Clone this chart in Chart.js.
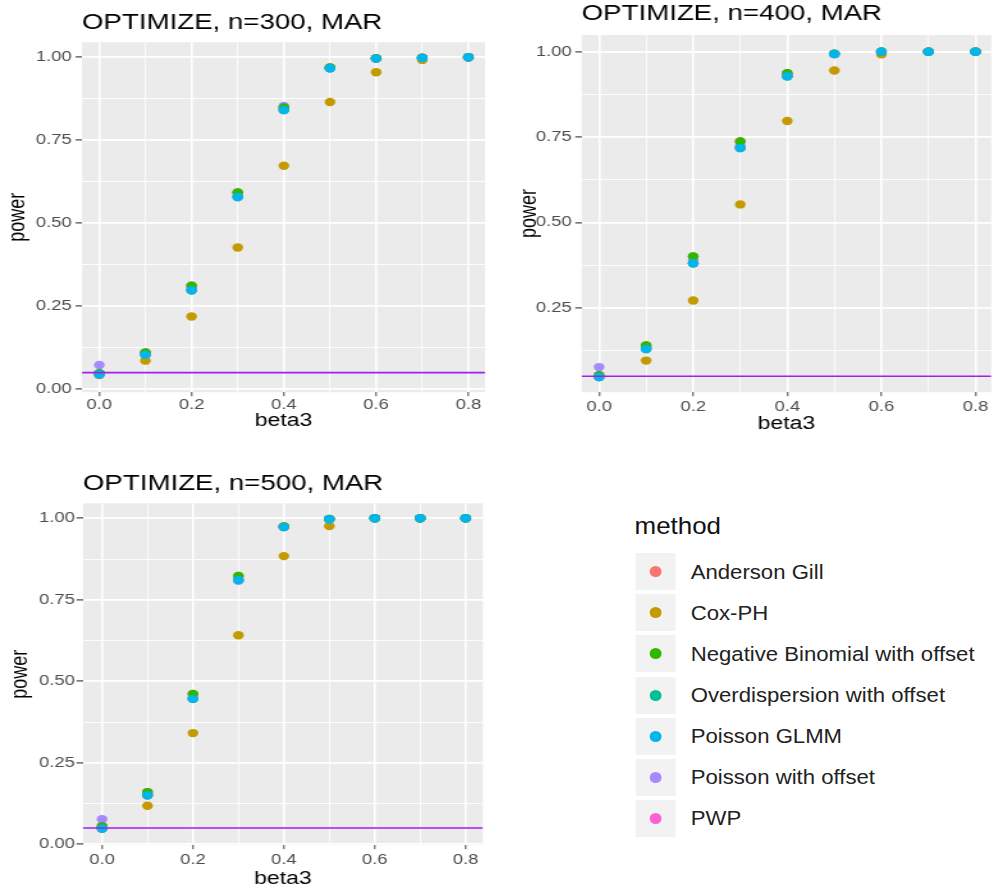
<!DOCTYPE html>
<html>
<head>
<meta charset="utf-8">
<script src="https://cdn.jsdelivr.net/npm/chart.js@4.4.1/dist/chart.umd.min.js"></script>
<style>
    html, body { margin: 0; padding: 0; background: #fff; width: 997px; height: 890px; overflow: hidden; font-family: "Liberation Sans", Arial, sans-serif; }
    .panel { position: absolute; transform: scaleX(1.28); transform-origin: 0 0; }
    #legend { position: absolute; left: 600px; top: 500px; width: 370px; height: 340px; transform: scaleX(1.08); transform-origin: 0 0; color: #222; }
    #legend .ttl { position: absolute; left: 32px; top: 14px; font-size: 24px; line-height: 24px; color: #111; }
    #legend .key { position: absolute; left: 33px; width: 37px; height: 37px; background: #F2F2F2; }
    #legend .dot { position: absolute; left: 13px; top: 13px; width: 11px; height: 11px; border-radius: 50%; }
    #legend .lab { position: absolute; left: 84px; font-size: 20.5px; line-height: 24px; white-space: nowrap; }
</style>
</head>
<body>
<div class="panel" style="left:0px;top:0px;width:385px;height:434px"><canvas id="c300"></canvas></div>
<div class="panel" style="left:500px;top:0px;width:388px;height:437px"><canvas id="c400"></canvas></div>
<div class="panel" style="left:0px;top:460px;width:383px;height:432px"><canvas id="c500"></canvas></div>
<div id="legend"></div>

<script>
// x values and tick grids
const beta3 = [0, 0.1, 0.2, 0.3, 0.4, 0.5, 0.6, 0.7, 0.8];
const xTicks = [0, 0.1, 0.2, 0.3, 0.4, 0.5, 0.6, 0.7, 0.8];
const yTicks = [0, 0.125, 0.25, 0.375, 0.5, 0.625, 0.75, 0.875, 1];
const alphaLevel = 0.05;

const methods = ['Anderson Gill', 'Cox-PH', 'Negative Binomial with offset', 'Overdispersion with offset',
    'Poisson GLMM', 'Poisson with offset', 'PWP'];
const methodColors = ['#F8766D', '#C49A00', '#2EB800', '#00C094', '#00B6EB', '#A58AFF', '#FB61D7'];
// lower = drawn on top
const drawOrder = [4, 6, 1, 3, 0, 2, 5];

// n = 300
const ag300   = [0.048, 0.111, 0.312, 0.593, 0.849, 0.969, 0.997, 0.999, 1.000];
const cox300  = [0.043, 0.086, 0.219, 0.427, 0.673, 0.865, 0.955, 0.992, 1.000];
const nb300   = [0.048, 0.111, 0.312, 0.593, 0.849, 0.969, 0.997, 0.999, 1.000];
const od300   = [0.045, 0.104, 0.298, 0.579, 0.841, 0.967, 0.996, 0.998, 1.000];
const glmm300 = [0.045, 0.104, 0.298, 0.579, 0.841, 0.967, 0.996, 0.998, 1.000];
const pois300 = [0.073, 0.108, 0.305, 0.588, 0.853, 0.968, 0.996, 0.998, 1.000];
const pwp300  = [0.045, 0.104, 0.298, 0.579, 0.841, 0.967, 0.996, 0.998, 1.000];

// n = 400
const ag400   = [0.053, 0.140, 0.401, 0.737, 0.937, 0.994, 1.000, 1.000, 1.000];
const cox400  = [0.048, 0.096, 0.272, 0.553, 0.797, 0.945, 0.992, 1.000, 1.000];
const nb400   = [0.053, 0.140, 0.401, 0.737, 0.937, 0.994, 1.000, 1.000, 1.000];
const od400   = [0.048, 0.130, 0.381, 0.718, 0.928, 0.993, 1.000, 1.000, 1.000];
const glmm400 = [0.048, 0.130, 0.381, 0.718, 0.928, 0.993, 1.000, 1.000, 1.000];
const pois400 = [0.077, 0.135, 0.390, 0.725, 0.930, 0.993, 1.000, 1.000, 1.000];
const pwp400  = [0.048, 0.130, 0.381, 0.718, 0.928, 0.993, 1.000, 1.000, 1.000];

// n = 500
const ag500   = [0.055, 0.160, 0.461, 0.823, 0.975, 0.998, 1.000, 1.000, 1.000];
const cox500  = [0.048, 0.118, 0.341, 0.641, 0.884, 0.976, 1.000, 1.000, 1.000];
const nb500   = [0.055, 0.160, 0.461, 0.823, 0.975, 0.998, 1.000, 1.000, 1.000];
const od500   = [0.048, 0.150, 0.446, 0.811, 0.973, 0.997, 1.000, 1.000, 1.000];
const glmm500 = [0.048, 0.150, 0.446, 0.811, 0.973, 0.997, 1.000, 1.000, 1.000];
const pois500 = [0.0765, 0.155, 0.450, 0.808, 0.974, 0.997, 1.000, 1.000, 1.000];
const pwp500  = [0.048, 0.150, 0.446, 0.811, 0.973, 0.997, 1.000, 1.000, 1.000];

const panels = [
    { id: 'c300', title: 'OPTIMIZE, n=300, MAR', series: [ag300, cox300, nb300, od300, glmm300, pois300, pwp300],
      xMin: -0.0375, xMax: 0.836, yMin: -0.009, yMax: 1.045,
      yAxisW: 64.06, yTitlePad: 3.3, yTickPad: 3, xAxisH: 41.8, xTickPad: 0, xTitlePad: 2,
      titleTop: 9.7, titleBottom: 6.7, padRight: 6.1 },
    { id: 'c400', title: 'OPTIMIZE, n=400, MAR', series: [ag400, cox400, nb400, od400, glmm400, pois400, pwp400],
      xMin: -0.037, xMax: 0.8335, yMin: 0.0035, yMax: 1.0487,
      yAxisW: 63.8, yTitlePad: 11.9, yTickPad: 2.8, xAxisH: 44.8, xTickPad: 2.2, xTitlePad: 2,
      titleTop: 1.4, titleBottom: 7.7, padRight: 0 },
    { id: 'c500', title: 'OPTIMIZE, n=500, MAR', series: [ag500, cox500, nb500, od500, glmm500, pois500, pwp500],
      xMin: -0.042, xMax: 0.838, yMin: -0.003, yMax: 1.046,
      yAxisW: 64.8, yTitlePad: 4.8, yTickPad: 1.2, xAxisH: 46.8, xTickPad: 2.4, xTitlePad: 2,
      titleTop: 11.3, titleBottom: 6.1, padRight: 5.7 }
];

Chart.defaults.font.family = '"Liberation Sans", Arial, Helvetica, sans-serif';

const isMajorX = v => Math.round(v * 10) % 2 === 0;
const isMajorY = v => Math.round(v * 8) % 2 === 0;

const panelBg = {
    id: 'panelBg',
    beforeDraw(chart) {
        const { ctx, chartArea: a } = chart;
        ctx.save();
        ctx.fillStyle = '#EBEBEB';
        ctx.fillRect(a.left, a.top, a.right - a.left, a.bottom - a.top);
        ctx.restore();
    }
};

function makeChart(p) {
    const datasets = methods.map((m, i) => ({
        type: 'scatter',
        label: m,
        data: beta3.map((b, j) => ({ x: b, y: p.series[i][j] })),
        backgroundColor: methodColors[i],
        borderWidth: 0,
        pointRadius: 4.2,
        order: drawOrder[i]
    }));
    // reference line at the nominal level
    datasets.push({
        type: 'line',
        label: 'alpha',
        data: [{ x: p.xMin, y: alphaLevel }, { x: p.xMax, y: alphaLevel }],
        borderColor: '#A020F0',
        borderWidth: 1.6,
        pointRadius: 0,
        order: -1
    });

    new Chart(document.getElementById(p.id), {
        type: 'scatter',
        data: { datasets },
        plugins: [panelBg],
        options: {
            responsive: true, maintainAspectRatio: false, animation: false, events: [],
            layout: { padding: { left: 0, right: p.padRight, top: 0, bottom: 0 } },
            plugins: {
                legend: { display: false },
                tooltip: { enabled: false },
                title: {
                    display: true, text: p.title, align: 'start', fullSize: false, color: '#000',
                    font: { size: 21.6, weight: 'normal' },
                    padding: { top: p.titleTop, bottom: p.titleBottom }
                }
            },
            scales: {
                x: {
                    type: 'linear', min: p.xMin, max: p.xMax,
                    afterBuildTicks: a => { a.ticks = xTicks.map(v => ({ value: v })); },
                    afterFit: a => { a.height = p.xAxisH; },
                    border: { display: false },
                    grid: {
                        color: '#FFFFFF',
                        lineWidth: c => isMajorX(c.tick.value) ? 1.6 : 0.8,
                        tickColor: c => isMajorX(c.tick.value) ? '#333333' : 'rgba(0,0,0,0)',
                        tickLength: 4, tickWidth: 0.9
                    },
                    ticks: {
                        padding: p.xTickPad, color: '#4D4D4D', font: { size: 14.4 },
                        autoSkip: false, maxRotation: 0, minRotation: 0,
                        callback: v => isMajorX(v) ? v.toFixed(1) : ''
                    },
                    title: {
                        display: true, text: 'beta3', color: '#000', font: { size: 18 },
                        padding: { top: 0, bottom: p.xTitlePad }
                    }
                },
                y: {
                    type: 'linear', min: p.yMin, max: p.yMax,
                    afterBuildTicks: a => {
                        a.ticks = yTicks.filter(v => v >= p.yMin && v <= p.yMax).map(v => ({ value: v }));
                    },
                    afterFit: a => { a.width = p.yAxisW; },
                    border: { display: false },
                    grid: {
                        color: '#FFFFFF',
                        lineWidth: c => isMajorY(c.tick.value) ? 1.8 : 0.9,
                        tickColor: c => isMajorY(c.tick.value) ? '#333333' : 'rgba(0,0,0,0)',
                        tickLength: 5, tickWidth: 1.1
                    },
                    ticks: {
                        padding: p.yTickPad, color: '#4D4D4D', font: { size: 14.4 }, autoSkip: false,
                        callback: v => isMajorY(v) ? v.toFixed(2) : ''
                    },
                    title: {
                        display: true, text: 'power', color: '#000', font: { size: 18 },
                        padding: { top: p.yTitlePad, bottom: 0 }
                    }
                }
            }
        }
    });
}

panels.forEach(makeChart);

// legend
const legend = document.getElementById('legend');
let html = '<div class="ttl">method</div>';
methods.forEach((m, i) => {
    const cy = 71.7 + 41.1 * i;
    html += `<div class="key" style="top:${cy - 18.5}px"><div class="dot" style="background:${methodColors[i]}"></div></div>`;
    html += `<div class="lab" style="top:${cy - 12}px">${m}</div>`;
});
legend.innerHTML = html;
</script>
</body>
</html>
